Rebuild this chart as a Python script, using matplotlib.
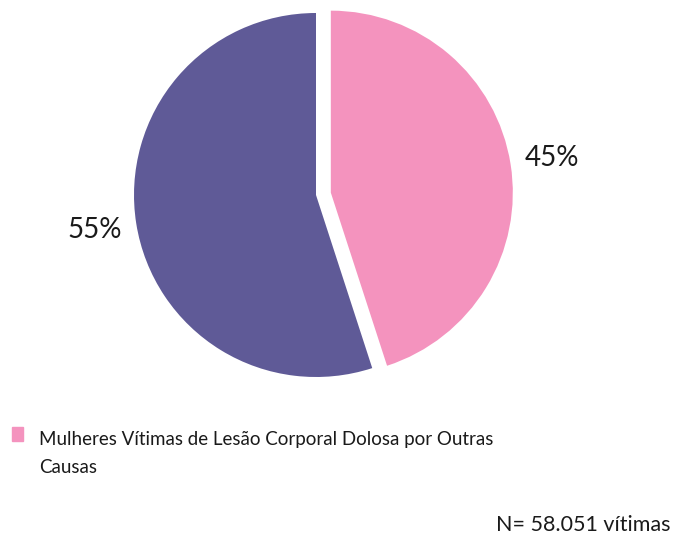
import matplotlib
matplotlib.use("Agg")
from matplotlib import pyplot as plt
from matplotlib.patches import Rectangle

plt.rcParams["font.family"] = ["Lato", "DejaVu Sans"]

labels = ["Mulheres Vítimas de Lesão Corporal Dolosa por Outras\nCausas", ""]
values = [45, 55]
colors = ["#F493BE", "#5F5A97"]
explode = [15, 0]
note = "N= 58.051 vítimas"

W, H = 675, 536
fig = plt.figure(figsize=(6.75, 5.36), dpi=100)
ax = fig.add_axes([0, 0, 1, 1])

wedges, texts, autotexts = ax.pie(
    values, colors=colors, explode=explode, startangle=90, counterclock=False,
    center=(316, 341), radius=182, autopct="%1.0f%%", pctdistance=1.23,
    textprops={"fontsize": 20, "color": "#1a1a1a"}, frame=True)
ax.set_xlim(0, W)
ax.set_ylim(0, H)
ax.set_aspect("equal")
ax.axis("off")

# legend drawn by hand so the key sits beside the first line
fig.patches.append(Rectangle((12 / W, 1 - 441 / H), 11 / W, 14 / H,
                             transform=fig.transFigure, color=colors[0]))
# baseline of a multi-line text is the last line
fig.text(39 / W, 1 - 473 / H, labels[0], ha="left", va="baseline",
         fontsize=13.5, color="#1a1a1a", linespacing=1.75)

fig.text(0.993, 1 - 531 / H, note, ha="right", va="baseline", fontsize=15.5, color="#1a1a1a")

fig.savefig("out.png", dpi=100)
